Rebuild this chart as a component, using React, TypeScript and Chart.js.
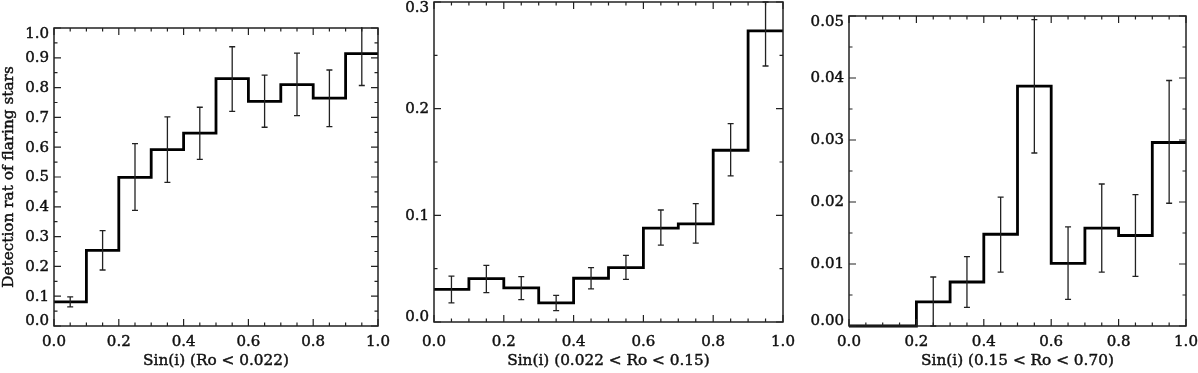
import React, { useEffect, useRef } from "react";
import { Chart, registerables } from "chart.js";

Chart.register(...registerables);

// ---- data ----
const X_EDGES = [0.0, 0.1, 0.2, 0.3, 0.4, 0.5, 0.6, 0.7, 0.8, 0.9, 1.0];
const X_TICK_LABELS = ["0.0", "0.2", "0.4", "0.6", "0.8", "1.0"];

const P1_VALUES = [0.081, 0.254, 0.499, 0.592, 0.647, 0.830, 0.754, 0.810, 0.765, 0.914];
const P1_ERR_HI = [0.098, 0.320, 0.612, 0.702, 0.734, 0.937, 0.842, 0.916, 0.859, 1.02];
const P1_ERR_LO = [0.064, 0.188, 0.388, 0.482, 0.559, 0.720, 0.667, 0.706, 0.669, 0.807];
const P1_Y_TICKS = ["0.0", "0.1", "0.2", "0.3", "0.4", "0.5", "0.6", "0.7", "0.8", "0.9", "1.0"];

const P2_VALUES = [0.0306, 0.0406, 0.032, 0.018, 0.041, 0.051, 0.088, 0.092, 0.161, 0.273];
const P2_ERR_HI = [0.043, 0.053, 0.0425, 0.025, 0.051, 0.0625, 0.105, 0.111, 0.186, 0.300];
const P2_ERR_LO = [0.018, 0.0275, 0.021, 0.0106, 0.031, 0.040, 0.072, 0.074, 0.137, 0.240];
const P2_Y_TICKS = ["0.0", "0.1", "0.2", "0.3"];

const P3_VALUES = [0.0, 0.0, 0.0039, 0.0071, 0.0148, 0.0387, 0.0101, 0.0158, 0.0146, 0.0296];
const P3_ERR_HI = [null, null, 0.0079, 0.0112, 0.0208, 0.0494, 0.0160, 0.0229, 0.0212, 0.0396];
const P3_ERR_LO = [null, null, 0.0, 0.0030, 0.0087, 0.0279, 0.0043, 0.0087, 0.0080, 0.0198];
const P3_Y_TICKS = ["0.00", "0.01", "0.02", "0.03", "0.04", "0.05"];

const X_TITLES = ["Sin(i) (Ro < 0.022)", "Sin(i) (0.022 < Ro < 0.15)", "Sin(i) (0.15 < Ro < 0.70)"];
const Y_TITLE = "Detection rat of flaring stars";

// ---- layout / style ----
const FONT = "15.3px 'DejaVu Serif'";
const TICK_FONT = "15px 'DejaVu Serif'";
const INK = "#111";

type Panel = {
  left: number;
  width: number;
  pad: { left: number; right: number; top: number; bottom: number };
  values: number[];
  hi: (number | null)[];
  lo: (number | null)[];
  yTicks: string[];
  yMax: number;
  yMinor: number;
  xTitle: string;
  yTitle?: string;
};

const PANELS: Panel[] = [
  {
    left: 0,
    width: 395,
    pad: { left: 54, right: 17, top: 28, bottom: 47 },
    values: P1_VALUES,
    hi: P1_ERR_HI,
    lo: P1_ERR_LO,
    yTicks: P1_Y_TICKS,
    yMax: 1.0,
    yMinor: 0.05,
    xTitle: X_TITLES[0],
    yTitle: Y_TITLE,
  },
  {
    left: 395,
    width: 400,
    pad: { left: 39, right: 12, top: 2, bottom: 51 },
    values: P2_VALUES,
    hi: P2_ERR_HI,
    lo: P2_ERR_LO,
    yTicks: P2_Y_TICKS,
    yMax: 0.3,
    yMinor: 0.05,
    xTitle: X_TITLES[1],
  },
  {
    left: 795,
    width: 403,
    pad: { left: 54, right: 12, top: 16, bottom: 47 },
    values: P3_VALUES,
    hi: P3_ERR_HI,
    lo: P3_ERR_LO,
    yTicks: P3_Y_TICKS,
    yMax: 0.05,
    yMinor: 0.005,
    xTitle: X_TITLES[2],
  },
];

const H = 373;

function boldText(ctx: CanvasRenderingContext2D, s: string, x: number, y: number) {
  ctx.fillText(s, x, y);
  ctx.strokeText(s, x, y);
}

function makeDecorPlugin(p: Panel) {
  return {
    id: "decor",
    afterDatasetsDraw(chart: any) {
      const { ctx, chartArea } = chart;
      const xs = chart.scales.x;
      const ys = chart.scales.y;
      const { left, right, top, bottom } = chartArea;
      ctx.save();

      // error bars
      ctx.save();
      ctx.beginPath();
      ctx.rect(left, top - 1, right - left, bottom - top + 2);
      ctx.clip();
      ctx.strokeStyle = "#222";
      ctx.lineWidth = 1.3;
      for (let i = 0; i < p.values.length; i++) {
        const h = p.hi[i];
        const l = p.lo[i];
        if (h == null || l == null) continue;
        const cx = xs.getPixelForValue((X_EDGES[i] + X_EDGES[i + 1]) / 2);
        const yh = ys.getPixelForValue(h);
        const yl = ys.getPixelForValue(l);
        ctx.beginPath();
        ctx.moveTo(cx, yh);
        ctx.lineTo(cx, yl);
        ctx.moveTo(cx - 3, yh);
        ctx.lineTo(cx + 3, yh);
        ctx.moveTo(cx - 3, yl);
        ctx.lineTo(cx + 3, yl);
        ctx.stroke();
      }
      ctx.restore();

      // box
      ctx.strokeStyle = "#222";
      ctx.lineWidth = 1.5;
      ctx.strokeRect(left, top, right - left, bottom - top);

      // ticks
      ctx.lineWidth = 1.2;
      ctx.beginPath();
      const xMajor = X_TICK_LABELS.map((s) => parseFloat(s));
      for (let k = 0; k <= 20; k++) {
        const v = k * 0.05;
        const isMajor = xMajor.some((m) => Math.abs(m - v) < 1e-6);
        const len = isMajor ? 7 : 3.5;
        const px = xs.getPixelForValue(v);
        ctx.moveTo(px, bottom);
        ctx.lineTo(px, bottom - len);
        ctx.moveTo(px, top);
        ctx.lineTo(px, top + len);
      }
      const yMajor = p.yTicks.map((s) => parseFloat(s));
      const nMinor = Math.round(p.yMax / p.yMinor);
      for (let k = 0; k <= nMinor; k++) {
        const v = k * p.yMinor;
        const isMajor = yMajor.some((m) => Math.abs(m - v) < p.yMinor / 10);
        const len = isMajor ? 7 : 3.5;
        const py = ys.getPixelForValue(v);
        ctx.moveTo(left, py);
        ctx.lineTo(left + len, py);
        ctx.moveTo(right, py);
        ctx.lineTo(right - len, py);
      }
      ctx.stroke();

      // tick labels
      ctx.fillStyle = INK;
      ctx.strokeStyle = INK;
      ctx.lineWidth = 0.45;
      ctx.font = TICK_FONT;
      ctx.textAlign = "center";
      ctx.textBaseline = "middle";
      X_TICK_LABELS.forEach((s) => {
        const px = xs.getPixelForValue(parseFloat(s));
        boldText(ctx, s, px, 342);
      });
      ctx.textAlign = "right";
      p.yTicks.forEach((s) => {
        let py = ys.getPixelForValue(parseFloat(s));
        py = Math.max(top + 6, Math.min(bottom - 5, py));
        boldText(ctx, s, left - 5, py + 0.5);
      });

      // titles
      ctx.font = FONT;
      ctx.textAlign = "center";
      boldText(ctx, p.xTitle, (left + right) / 2, 361);
      if (p.yTitle) {
        ctx.save();
        ctx.translate(9, (top + bottom) / 2);
        ctx.rotate(-Math.PI / 2);
        boldText(ctx, p.yTitle, 0, 0);
        ctx.restore();
      }
      ctx.restore();
    },
  };
}

function PanelChart({ p }: { p: Panel }) {
  const ref = useRef<HTMLCanvasElement | null>(null);
  useEffect(() => {
    if (!ref.current) return;
    const points = X_EDGES.map((e, i) => ({
      x: e,
      y: p.values[Math.min(i, p.values.length - 1)],
    }));
    const chart = new Chart(ref.current, {
      type: "line",
      data: {
        datasets: [
          {
            data: points,
            stepped: "before",
            borderColor: "#000",
            borderWidth: 2.8,
            pointRadius: 0,
            fill: false,
            clip: 3,
          } as any,
        ],
      },
      options: {
        animation: false,
        responsive: false,
        devicePixelRatio: 1,
        layout: { padding: p.pad },
        plugins: { legend: { display: false }, tooltip: { enabled: false } },
        scales: {
          x: { type: "linear", min: 0, max: 1, display: false },
          y: { type: "linear", min: 0, max: p.yMax, display: false },
        },
      },
      plugins: [makeDecorPlugin(p)],
    });
    return () => chart.destroy();
  }, [p]);
  return (
    <canvas
      ref={ref}
      width={p.width}
      height={H}
      style={{ position: "absolute", left: p.left, top: 0, width: p.width, height: H }}
    />
  );
}

export default function App() {
  useEffect(() => {
    document.body.style.margin = "0";
  }, []);
  return (
    <div style={{ position: "relative", width: 1198, height: H, background: "#fff", overflow: "hidden" }}>
      {PANELS.map((p, i) => (
        <PanelChart key={i} p={p} />
      ))}
    </div>
  );
}
